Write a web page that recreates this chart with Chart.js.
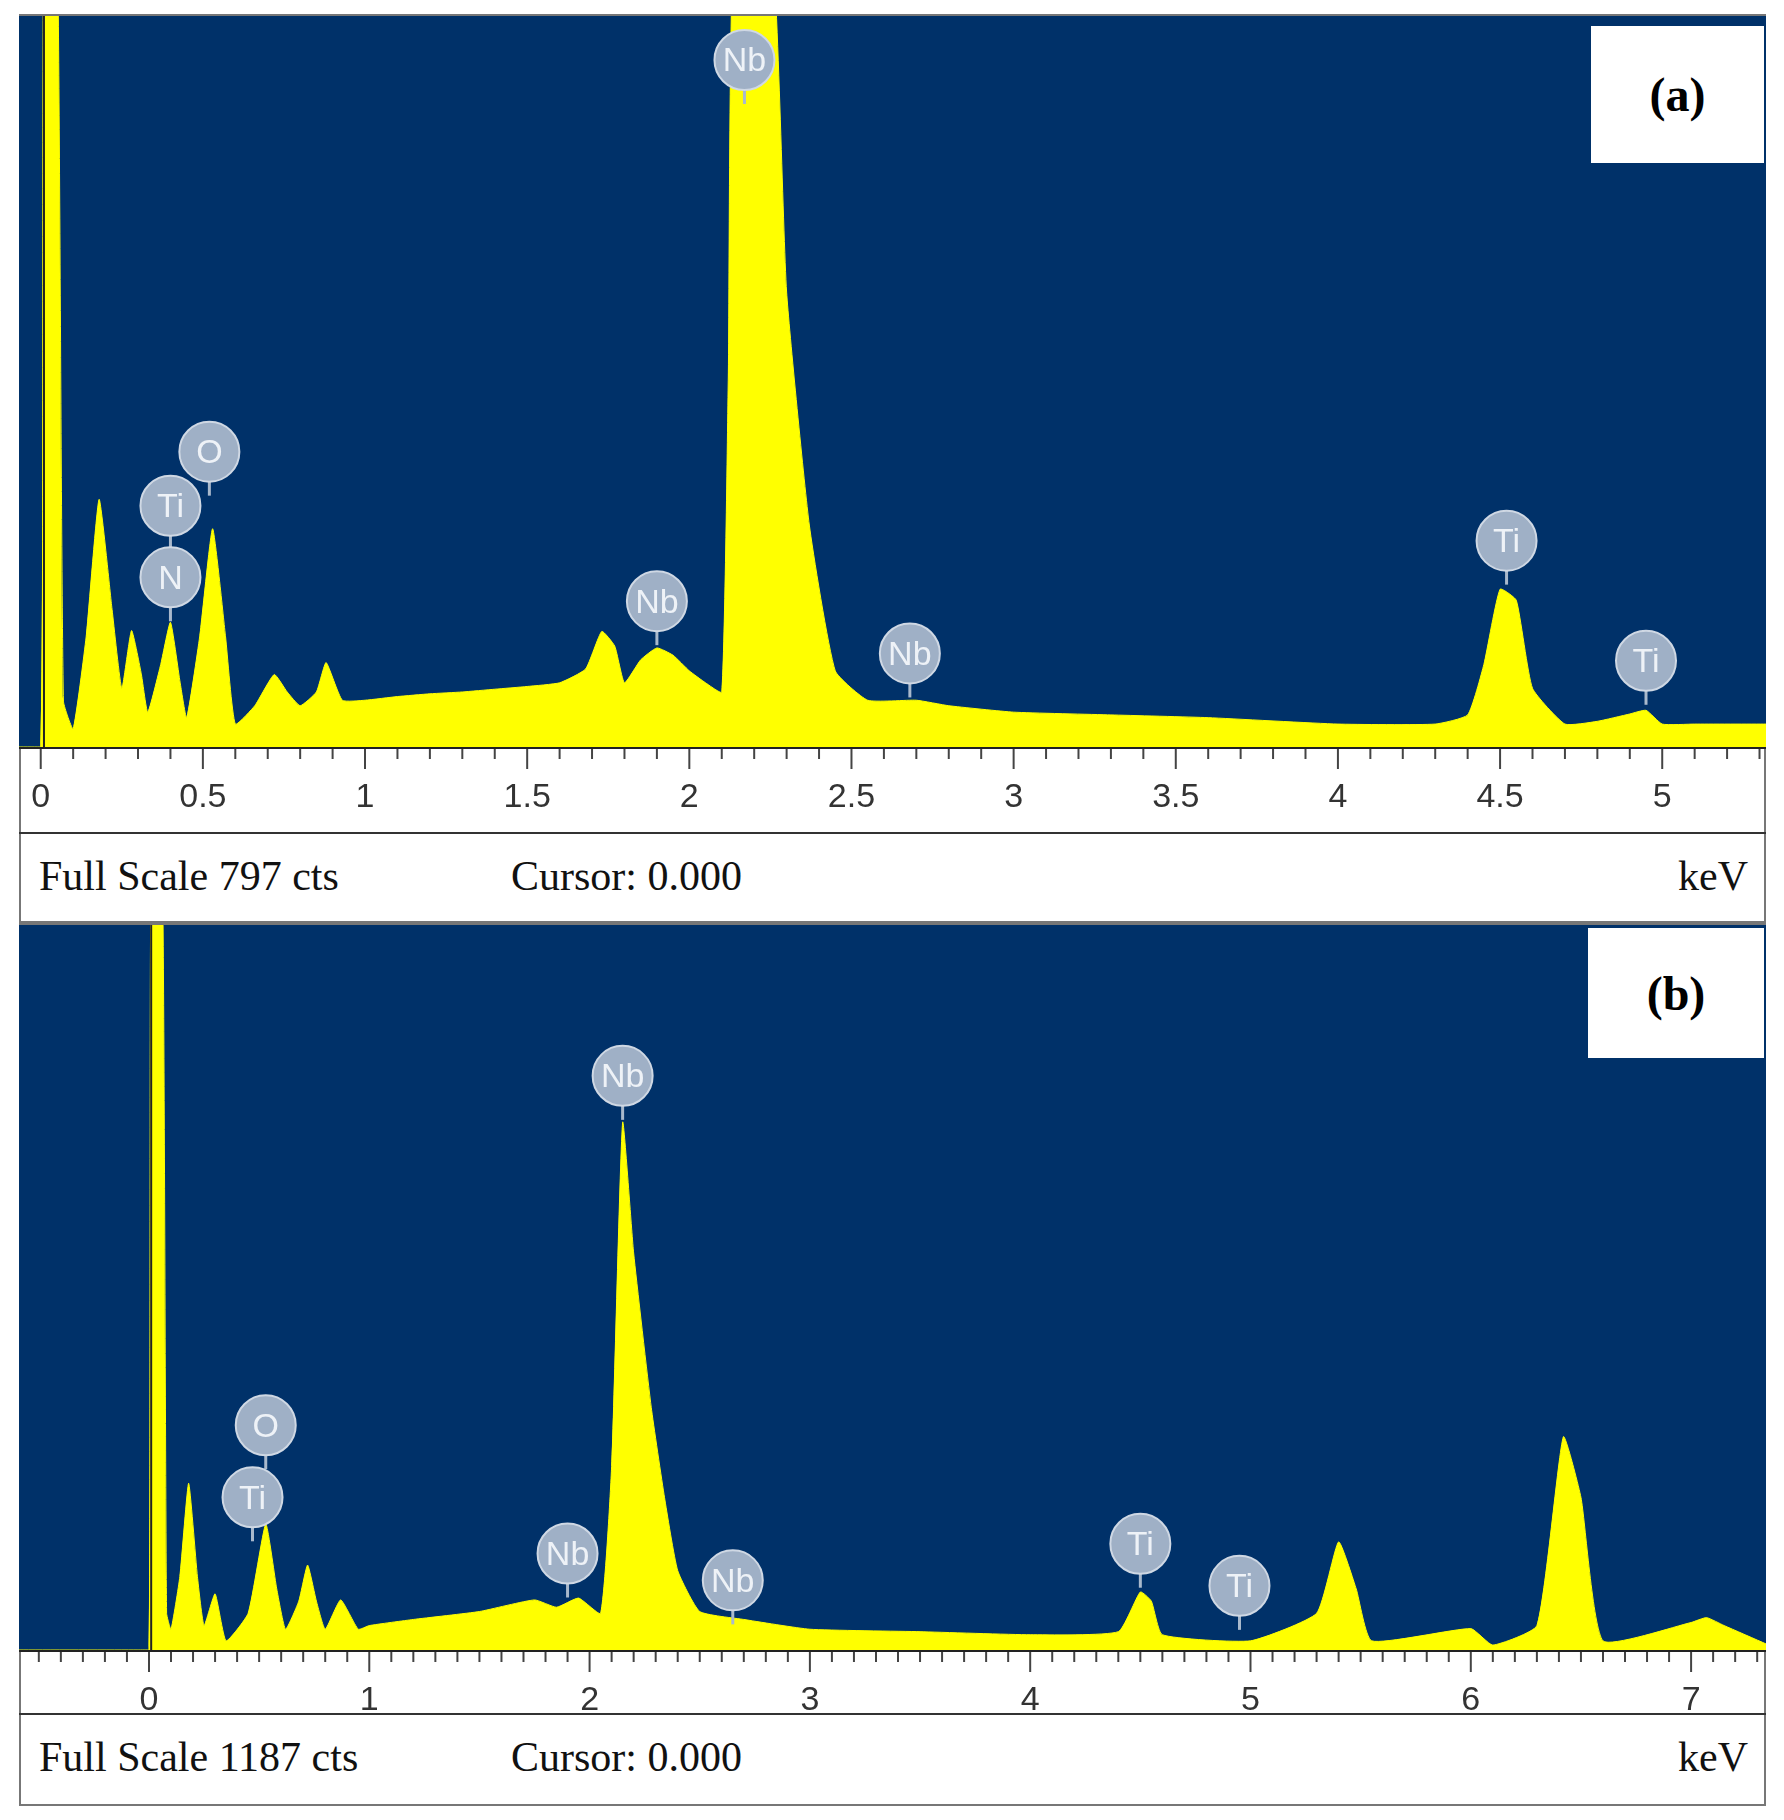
<!DOCTYPE html>
<html>
<head>
<meta charset="utf-8">
<script src="https://cdn.jsdelivr.net/npm/chart.js@4.4.1/dist/chart.umd.min.js"></script>
<style>
  body { margin: 0; background: #fff; width: 1784px; height: 1820px; position: relative; }
  .panel { position: absolute; left: 19px; width: 1747px; border: 2px solid #777; box-sizing: border-box; }
  .cv { position: absolute; left: 19px; }
  .strip { position: absolute; left: 19px; width: 1747px; font-family: "Liberation Serif", serif; font-size: 42px; color: #111;
           border-top: 2px solid #333; box-sizing: border-box; }
  .strip span { position: absolute; top: 18px; }
  .tag { position: absolute; background: #fff; font-family: "Liberation Serif", serif; font-weight: bold; font-size: 48px;
         display: flex; align-items: center; justify-content: center; }
</style>
</head>
<body>
<div class="panel" style="top:14px;height:909px"></div>
<div class="panel" style="top:923px;height:883px"></div>
<canvas id="chartA" class="cv" style="top:16px"></canvas>
<canvas id="chartB" class="cv" style="top:925px"></canvas>
<div class="strip" style="top:832px;height:89px"><span style="left:20px">Full Scale 797 cts</span><span style="left:492px">Cursor: 0.000</span><span style="right:18px">keV</span></div>
<div class="strip" style="top:1713px;height:91px"><span style="left:20px">Full Scale 1187 cts</span><span style="left:492px">Cursor: 0.000</span><span style="right:18px">keV</span></div>
<div class="tag" style="left:1591px;top:26px;width:173px;height:137px">(a)</div>
<div class="tag" style="left:1588px;top:928px;width:176px;height:130px">(b)</div>
<script>
// spectrum (a): keV / counts
var energyA = [-0.067,0,0.01,0.05,0.07,0.1,0.14,0.18,0.22,0.25,0.28,0.31,0.33,0.37,0.4,0.43,0.45,0.49,0.53,0.57,0.6,0.66,0.72,0.76,0.8,0.85,0.88,0.93,1.0,1.1,1.2,1.3,1.4,1.5,1.6,1.68,1.73,1.77,1.8,1.85,1.9,1.95,2.0,2.05,2.1,2.12,2.14,2.25,2.3,2.37,2.45,2.55,2.7,2.8,3.0,3.3,3.6,4.0,4.3,4.4,4.45,4.5,4.55,4.6,4.7,4.8,4.9,4.95,5.0,5.1,5.32];
var countsA = [0,0,900,900,50,20,120,270,150,64,127,80,38,90,136,70,32,120,238,120,25,45,79,60,45,60,92,51,51,55,58,60,63,66,70,85,126,110,70,95,108,100,83,70,60,400,900,900,496,242,83,51,51,45,38,35,32,25,25,35,90,172,160,64,25,28,36,40,25,25,25];
// spectrum (b)
var energyB = [-0.59,-0.05,0,0.01,0.06,0.08,0.1,0.14,0.18,0.22,0.25,0.3,0.35,0.45,0.53,0.58,0.62,0.68,0.72,0.76,0.8,0.87,0.95,1.0,1.2,1.5,1.75,1.85,1.95,2.05,2.1,2.15,2.2,2.28,2.34,2.4,2.5,2.7,3.0,3.5,4.0,4.4,4.5,4.55,4.6,5.0,5.3,5.4,5.48,5.55,6.0,6.1,6.3,6.42,6.5,6.6,7.0,7.07,7.15,7.34];
var countsB = [0,0,0,1300,1300,60,34,120,273,120,40,92,15,60,206,100,34,80,139,80,34,82,34,40,50,63,82,70,85,60,300,864,650,397,250,130,63,50,34,30,25,30,95,80,25,15,60,177,100,15,35,8,40,349,250,15,45,53,40,10];
// peak labels
var labelTextA = ['Nb','O','Ti','N','Nb','Nb','Ti','Ti'];
var labelKeVA = [2.17,0.52,0.4,0.4,1.9,2.68,4.52,4.95];
var labelCtsA = [749,322,263,185,159,102,225,94];
var labelTextB = ['O','Ti','Nb','Nb','Nb','Ti','Ti'];
var labelKeVB = [0.53,0.47,1.9,2.15,2.65,4.5,4.95];
var labelCtsB = [368,250,158,940,114,174,105];

var specPlugin = {
  id: 'spec',
  beforeDraw: function(chart) {
    var a = chart.chartArea, c = chart.ctx;
    c.save(); c.fillStyle = '#003169'; c.fillRect(a.left, a.top, a.right - a.left, a.bottom - a.top); c.restore();
  },
  afterDraw: function(chart) {
    var o = chart.options.plugins.spec, c = chart.ctx, a = chart.chartArea;
    var x = chart.scales.x, y = chart.scales.y;
    c.save();
    // cursor line
    c.strokeStyle = '#222'; c.lineWidth = 2;
    var cx = x.getPixelForValue(0.01);
    c.beginPath(); c.moveTo(cx, a.top); c.lineTo(cx, a.bottom); c.stroke();
    // baseline
    c.beginPath(); c.moveTo(a.left, a.bottom + 1); c.lineTo(a.right, a.bottom + 1); c.stroke();
    // tick marks
    c.strokeStyle = '#444'; c.lineWidth = 2;
    for (var t = Math.ceil(x.min / o.minor) * o.minor; t <= x.max; t += o.minor) {
      var px = x.getPixelForValue(t);
      var major = Math.abs(t / o.major - Math.round(t / o.major)) < 1e-6;
      c.beginPath(); c.moveTo(px, a.bottom + 2); c.lineTo(px, a.bottom + (major ? 22 : 12)); c.stroke();
    }
    // peak bubbles
    for (var i = 0; i < o.text.length; i++) {
      var bx = x.getPixelForValue(o.keV[i]), by = y.getPixelForValue(o.cts[i]);
      c.strokeStyle = '#a9b9cc'; c.lineWidth = 3;
      c.beginPath(); c.moveTo(bx, by); c.lineTo(bx, by + 44); c.stroke();
      c.fillStyle = '#9fb0c6';
      c.beginPath(); c.arc(bx, by, 30, 0, Math.PI * 2); c.fill();
      c.strokeStyle = '#cfd8e4'; c.lineWidth = 2; c.stroke();
      c.fillStyle = '#eef2f7'; c.font = '34px "Liberation Sans", sans-serif';
      c.textAlign = 'center'; c.textBaseline = 'middle';
      c.fillText(o.text[i], bx, by + 2);
    }
    c.restore();
  }
};

function makeChart(id, w, h, axisH, energy, counts, xmin, xmax, ymax, major, minor, text, keV, cts) {
  var cv = document.getElementById(id);
  cv.style.width = w + 'px'; cv.style.height = h + 'px';
  var pts = energy.map(function(e, i) { return { x: e, y: counts[i] }; });
  return new Chart(cv, {
    type: 'line',
    data: { datasets: [{ data: pts, borderColor: '#ffff00', backgroundColor: '#ffff00', borderWidth: 1,
                         fill: 'origin', pointRadius: 0, tension: 0.15, clip: 0 }] },
    options: {
      responsive: false, animation: false, devicePixelRatio: 1,
      layout: { padding: 0 },
      plugins: { legend: { display: false }, tooltip: { enabled: false },
                 spec: { major: major, minor: minor, text: text, keV: keV, cts: cts } },
      scales: {
        x: { type: 'linear', min: xmin, max: xmax,
             grid: { display: false }, border: { display: false },
             afterBuildTicks: function(s) {
               var out = [];
               for (var v = 0; v <= xmax; v += major) out.push({ value: Math.round(v * 10) / 10 });
               s.ticks = out;
             },
             afterFit: function(s) { s.height = axisH; s.paddingLeft = 0; s.paddingRight = 0; },
             ticks: { autoSkip: false, maxRotation: 0, padding: 22, color: '#333',
                      font: { size: 34, family: 'Liberation Sans' },
                      callback: function(v) { return (Math.round(v * 10) / 10).toString(); } } },
        y: { display: false, min: 0, max: ymax }
      }
    },
    plugins: [specPlugin]
  });
}

var wA = 1747;
var cA = document.getElementById('chartA'); cA.width = wA; cA.height = 816;
makeChart('chartA', wA, 816, 85, energyA, countsA, -0.067, 5.32, 797, 0.5, 0.1, labelTextA, labelKeVA, labelCtsA);
var cB = document.getElementById('chartB'); cB.width = wA; cB.height = 788;
makeChart('chartB', wA, 788, 63, energyB, countsB, -0.59, 7.34, 1187, 1, 0.1, labelTextB, labelKeVB, labelCtsB);
</script>
</body>
</html>
